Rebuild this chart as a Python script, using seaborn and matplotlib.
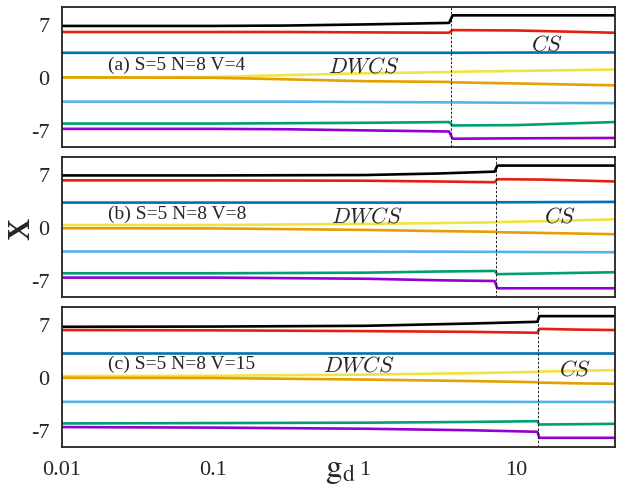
import numpy as np
import pandas as pd
import matplotlib
matplotlib.use("Agg")
import matplotlib.pyplot as plt
import seaborn as sns

# series names and colours (gnuplot default line colours)
series = ["black", "red", "blue", "yellow", "orange", "lightblue", "green", "purple"]
colors = ["#000000", "#e51e10", "#0072b2", "#f0e442", "#e69f00", "#56b4e9", "#009e73", "#9400d3"]

# panel (a) S=5 N=8 V=4
g_a = [0.01, 0.1, 0.3, 1, 3.6, 3.8, 10, 45]
a_black = [6.8, 6.8, 6.85, 7.0, 7.2, 8.2, 8.2, 8.2]
a_red = [6.0, 6.0, 6.0, 5.95, 5.9, 6.25, 6.2, 5.9]
a_blue = [3.25, 3.25, 3.25, 3.25, 3.25, 3.25, 3.28, 3.3]
a_yellow = [0.0, 0.05, 0.3, 0.55, 0.7, 0.75, 0.85, 1.05]
a_orange = [0.0, -0.05, -0.25, -0.5, -0.6, -0.65, -0.8, -1.05]
a_lblue = [-3.2, -3.2, -3.2, -3.25, -3.3, -3.3, -3.35, -3.4]
a_green = [-6.1, -6.1, -6.05, -6.0, -5.9, -6.35, -6.3, -5.9]
a_purple = [-6.8, -6.8, -6.85, -7.0, -7.15, -8.1, -8.05, -8.0]

# panel (b) S=5 N=8 V=8
g_b = [0.01, 0.1, 1, 3, 7.2, 7.5, 15, 45]
b_black = [6.85, 6.85, 6.9, 7.1, 7.35, 8.15, 8.15, 8.15]
b_red = [6.2, 6.2, 6.15, 6.05, 5.95, 6.35, 6.3, 6.05]
b_blue = [3.26, 3.26, 3.26, 3.26, 3.26, 3.3, 3.32, 3.35]
b_yellow = [0.3, 0.3, 0.45, 0.55, 0.65, 0.7, 0.8, 1.05]
b_orange = [-0.13, -0.15, -0.35, -0.5, -0.6, -0.65, -0.75, -0.92]
b_lblue = [-3.2, -3.2, -3.2, -3.22, -3.25, -3.25, -3.28, -3.3]
b_green = [-6.08, -6.08, -6.0, -5.85, -5.77, -6.2, -6.1, -5.94]
b_purple = [-6.65, -6.65, -6.8, -7.0, -7.1, -8.06, -8.06, -8.06]

# panel (c) S=5 N=8 V=15
g_c = [0.01, 0.1, 1, 5, 13.8, 14.2, 25, 45]
c_black = [6.67, 6.7, 6.8, 7.1, 7.33, 8.08, 8.08, 8.08]
c_red = [6.24, 6.2, 6.1, 6.0, 5.88, 6.4, 6.3, 6.24]
c_blue = [3.24, 3.24, 3.24, 3.24, 3.24, 3.24, 3.24, 3.24]
c_yellow = [0.16, 0.2, 0.35, 0.55, 0.7, 0.75, 0.85, 0.95]
c_orange = [-0.07, -0.1, -0.3, -0.5, -0.65, -0.7, -0.8, -0.86]
c_lblue = [-3.24, -3.24, -3.24, -3.24, -3.26, -3.26, -3.26, -3.26]
c_green = [-6.1, -6.05, -6.0, -5.9, -5.8, -6.24, -6.2, -6.15]
c_purple = [-6.58, -6.65, -6.8, -7.0, -7.2, -8.0, -8.0, -8.0]

labels = ["(a) S=5 N=8 V=4", "(b) S=5 N=8 V=8", "(c) S=5 N=8 V=15"]
transitions = [3.7, 7.35, 14.0]
xticks = [0.01, 0.1, 1, 10]
xticklabels = ["0.01", "0.1", "1", "10"]
yticks = [-7, 0, 7]


def to_frame(g, cols):
    rows = []
    for name, vals in zip(series, cols):
        for x, y in zip(g, vals):
            rows.append({"g": x, "val": y, "series": name})
    return pd.DataFrame(rows)


panels = [
    to_frame(g_a, [a_black, a_red, a_blue, a_yellow, a_orange, a_lblue, a_green, a_purple]),
    to_frame(g_b, [b_black, b_red, b_blue, b_yellow, b_orange, b_lblue, b_green, b_purple]),
    to_frame(g_c, [c_black, c_red, c_blue, c_yellow, c_orange, c_lblue, c_green, c_purple]),
]

sns.set_style("white")
plt.rcParams["font.family"] = ["Liberation Serif", "DejaVu Serif"]

fig = plt.figure(figsize=(6.17, 4.85), dpi=100)
left, width, h = 0.1005, 0.8965, 0.2887
bottoms = [0.694, 0.385, 0.0757]

# text positions (data coords)
tag_pos = [(0.02, 1.7), (0.02, 1.85), (0.02, 1.9)]
dwcs_pos = [(0.57, 1.45), (0.6, 1.45), (0.53, 1.5)]
cs_pos = [(12.6, 4.4), (15.3, 1.45), (19.3, 1.0)]

for i, df in enumerate(panels):
    ax = fig.add_axes([left, bottoms[i], width, h])
    sns.lineplot(data=df, x="g", y="val", hue="series", palette=colors,
                 hue_order=series, estimator=None, linewidth=1.9, legend=False, ax=ax)
    ax.set_xscale("log")
    ax.set_xlim(0.01, 45)
    ax.set_ylim(-9.25, 9.25)
    ax.axvline(transitions[i], color="black", linestyle=(0, (3, 2)), linewidth=0.6)
    ax.set_yticks(yticks)
    ax.set_yticklabels([str(t) for t in yticks], fontsize=16)
    ax.set_xticks(xticks)
    ax.minorticks_off()
    if i == 2:
        ax.set_xticklabels(xticklabels, fontsize=16)
    else:
        ax.set_xticklabels([])
    ax.tick_params(length=0, pad=9)
    ax.set_xlabel("")
    ax.set_ylabel("")
    for s in ax.spines.values():
        s.set_linewidth(1.3)
        s.set_color("#222222")
    ax.text(tag_pos[i][0], tag_pos[i][1], labels[i], fontsize=14, va="center", ha="left")
    ax.text(dwcs_pos[i][0], dwcs_pos[i][1], r"$DWCS$", fontsize=16, va="center",
            ha="left", math_fontfamily="cm")
    ax.text(cs_pos[i][0], cs_pos[i][1], r"$CS$", fontsize=16, va="center",
            ha="left", math_fontfamily="cm")

fig.text(0.036, 0.528, "X", rotation=90, fontsize=22, fontweight="bold",
         ha="center", va="center")
fig.text(0.551, 0.03, r"$\mathrm{g}_\mathrm{d}$", fontsize=24, ha="center",
         va="center", math_fontfamily="stix")

fig.savefig("out.png", dpi=100)
